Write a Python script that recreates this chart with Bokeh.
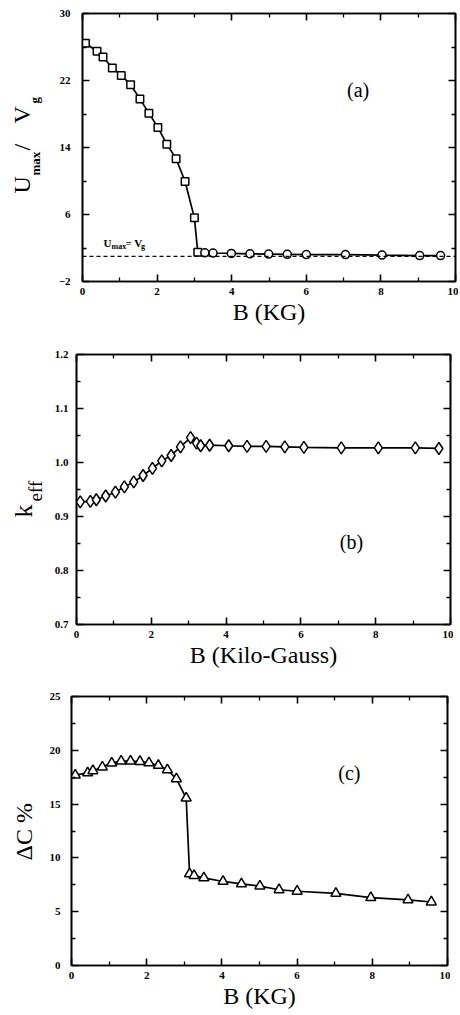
import math
from bokeh.plotting import figure
from bokeh.layouts import column, row
from bokeh.models import (Label, Span, FixedTicker, LinearAxis, CustomJSTickFormatter,
                          PrintfTickFormatter, Range1d)
from bokeh.core.properties import value
from bokeh.embed import file_html
from bokeh.resources import INLINE

# ---------------- data ----------------
# (a) Umax / Vg versus B (KG)
xa = [0.08, 0.39, 0.55, 0.8, 1.04, 1.29, 1.54, 1.78, 2.02, 2.26, 2.51, 2.75, 3.0,
      3.09, 3.28, 3.5, 3.99, 4.49, 4.99, 5.49, 6.0, 7.05, 8.03, 9.04, 9.6]
ya = [26.45, 25.5, 24.8, 23.5, 22.6, 21.5, 19.8, 18.1, 16.4, 14.4, 12.65, 9.94, 5.6,
      1.5, 1.43, 1.4, 1.35, 1.3, 1.28, 1.25, 1.22, 1.22, 1.15, 1.1, 1.1]
n_square_a = 14          # first points drawn as squares, rest as circles
vg_level = [1]           # Umax = Vg reference line

# (b) k_eff versus B (Kilo-Gauss)
xb = [0.1, 0.37, 0.53, 0.78, 1.04, 1.28, 1.53, 1.78, 2.03, 2.28, 2.53, 2.78, 3.05,
      3.21, 3.32, 3.56, 4.07, 4.56, 5.07, 5.57, 6.08, 7.08, 8.07, 9.06, 9.69]
yb = [0.927, 0.928, 0.931, 0.938, 0.945, 0.955, 0.964, 0.976, 0.989, 1.003, 1.013, 1.029, 1.046,
      1.036, 1.031, 1.032, 1.031, 1.030, 1.030, 1.029, 1.028, 1.027, 1.027, 1.027, 1.026]

# (c) Delta C % versus B (KG)
xc = [0.1, 0.43, 0.57, 0.82, 1.07, 1.32, 1.57, 1.82, 2.06, 2.31, 2.55, 2.79, 3.05,
      3.14, 3.26, 3.52, 4.03, 4.52, 5.01, 5.52, 6.0, 7.03, 7.96, 8.95, 9.57]
yc = [17.7, 17.9, 18.1, 18.44, 18.81, 19.0, 19.0, 18.96, 18.84, 18.59, 18.19, 17.35, 15.56,
      8.52, 8.36, 8.15, 7.81, 7.59, 7.38, 7.04, 6.9, 6.7, 6.3, 6.1, 5.9]

x_major = [0, 2, 4, 6, 8, 10]
x_minor = [1, 3, 5, 7, 9]
ya_major = [-2, 6, 14, 22, 30]
ya_minor = [2, 10, 18, 26]
yb_major = [0.7, 0.8, 0.9, 1.0, 1.1, 1.2]
yb_minor = [0.75, 0.85, 0.95, 1.05, 1.15]
yc_major = [0, 5, 10, 15, 20, 25]
yc_minor = [2.5, 7.5, 12.5, 17.5, 22.5]

SERIF = "Liberation Serif"


def style_axis(ax, labels=True):
    ax.axis_line_color = "black"
    ax.axis_line_width = 1.6
    ax.major_tick_line_color = "black"
    ax.major_tick_line_width = 1.6
    ax.minor_tick_line_color = "black"
    ax.minor_tick_line_width = 1.3
    ax.major_tick_in = 7
    ax.major_tick_out = 0
    ax.minor_tick_in = 4
    ax.minor_tick_out = 0
    ax.major_label_text_font = SERIF
    ax.major_label_text_font_style = "bold"
    ax.major_label_text_font_size = "11px"
    ax.major_label_text_color = "black"
    ax.axis_label_text_font = SERIF
    ax.axis_label_text_font_style = "normal"
    ax.axis_label_text_font_size = "24px"
    ax.axis_label_text_color = "black"
    if not labels:
        ax.formatter = CustomJSTickFormatter(code="return ''")
        ax.major_label_standoff = 0
        ax.major_label_text_font_size = "1px"


def make_panel(xr, yr, xmaj, xmin, ymaj, ymin, xlabel, fw, fh, bl, bt, ystand, yfmt=None):
    p = figure(frame_width=fw, frame_height=fh, x_range=Range1d(*xr), y_range=Range1d(*yr),
               output_backend="svg", toolbar_location=None,
               min_border_left=bl, min_border_top=bt, min_border_right=3, min_border_bottom=4)
    p.xgrid.visible = False
    p.ygrid.visible = False
    p.outline_line_color = "black"
    p.outline_line_width = 1.6
    p.background_fill_color = "white"
    p.border_fill_color = "white"
    p.xaxis.ticker = FixedTicker(ticks=xmaj, minor_ticks=xmin)
    p.yaxis.ticker = FixedTicker(ticks=ymaj, minor_ticks=ymin)
    style_axis(p.xaxis[0])
    style_axis(p.yaxis[0])
    if yfmt is not None:
        p.yaxis.formatter = PrintfTickFormatter(format=yfmt)
    p.xaxis.axis_label = xlabel
    p.xaxis.major_label_standoff = 6
    p.xaxis.axis_label_standoff = 1
    p.yaxis.major_label_standoff = ystand
    top = LinearAxis(ticker=FixedTicker(ticks=xmaj, minor_ticks=xmin))
    right = LinearAxis(ticker=FixedTicker(ticks=ymaj, minor_ticks=ymin))
    style_axis(top, labels=False)
    style_axis(right, labels=False)
    p.add_layout(top, "above")
    p.add_layout(right, "right")
    return p


def label_strip(width, fh, bt, pieces):
    """Narrow figure holding the rotated y-axis title; units are pixels,
    x from the strip's left edge, y from the main frame's bottom."""
    s = figure(frame_width=width, frame_height=fh, x_range=Range1d(0, width),
               y_range=Range1d(0, fh), output_backend="svg", toolbar_location=None,
               x_axis_location=None, y_axis_location=None,
               min_border_left=0, min_border_right=0, min_border_top=bt, min_border_bottom=0)
    s.xgrid.visible = False
    s.ygrid.visible = False
    s.outline_line_color = None
    s.background_fill_color = "white"
    s.border_fill_color = "white"
    for txt, x, y, size, style in pieces:
        s.text(x=[x], y=[y], text=[txt], angle=math.pi / 2, text_font=value(SERIF),
               text_font_size=value(size), text_font_style=style, text_align="left",
               text_baseline="middle", text_color="black")
    return s


# ---------------- panel (a) ----------------
XR = (0, 10)
FWA, FHA, BTA, LA = 373, 268, 13, 52
pa = make_panel(XR, (-2, 30), x_major, x_minor, ya_major, ya_minor, "B (KG)",
                FWA, FHA, 82 - LA, BTA, 12)
pa.add_layout(Span(location=vg_level[0], dimension="width", line_color="black",
                   line_dash="4 3", line_width=1.2))
pa.line(xa, ya, line_color="black", line_width=1.7)
pa.scatter(xa[:n_square_a], ya[:n_square_a], marker="square", size=7.5,
           fill_color="white", line_color="black", line_width=1.5)
pa.scatter(xa[n_square_a:], ya[n_square_a:], marker="circle", size=8,
           fill_color="white", line_color="black", line_width=1.5)
pa.add_layout(Label(x=7.39, y=20.87, text="(a)", text_font=SERIF, text_font_size="20px",
                    text_align="center", text_baseline="middle", text_color="black"))
for txt, xx, yy, fs in [("U", 0.56, 2.54, "11px"), ("max", 0.78, 2.2, "8px"),
                        ("= V", 1.15, 2.54, "11px"), ("g", 1.57, 2.2, "8px")]:
    pa.add_layout(Label(x=xx, y=yy, text=txt, text_font=SERIF, text_font_size=fs,
                        text_font_style="bold", text_align="left",
                        text_baseline="alphabetic", text_color="black"))
sa = label_strip(LA, FHA, BTA, [("U", 21, 88, "24px", "normal"),
                                ("max", 35, 106, "13px", "bold"),
                                ("/", 21, 131, "24px", "normal"),
                                ("V", 21, 158, "24px", "normal"),
                                ("g", 34, 178, "13px", "bold")])

# ---------------- panel (b) ----------------
FWB, FHB, BTB, LB = 374, 270, 27, 48
pb = make_panel(XR, (0.7, 1.2), x_major, x_minor, yb_major, yb_minor,
                "B (Kilo-Gauss)", FWB, FHB, 76 - LB, BTB, 8, yfmt="%.1f")
pb.line(xb, yb, line_color="black", line_width=1.7)
pb.scatter(xb, yb, marker="diamond", size=12, fill_color="white",
           line_color="black", line_width=1.5)
pb.add_layout(Label(x=7.35, y=0.853, text="(b)", text_font=SERIF, text_font_size="20px",
                    text_align="center", text_baseline="middle", text_color="black"))
sb = label_strip(LB, FHB, BTB, [("k", 23, 107, "26px", "normal"),
                                ("eff", 35, 123, "19px", "normal")])

# ---------------- panel (c) ----------------
FWC, FHC, BTC, LC = 376, 269, 26, 46
pc = make_panel(XR, (0, 25), x_major, x_minor, yc_major, yc_minor, "B (KG)",
                FWC, FHC, 71 - LC, BTC, 11)
pc.line(xc, yc, line_color="black", line_width=1.7)
pc.scatter(xc, yc, marker="triangle", size=10, fill_color="white",
           line_color="black", line_width=1.5)
pc.add_layout(Label(x=7.39, y=17.86, text="(c)", text_font=SERIF, text_font_size="20px",
                    text_align="center", text_baseline="middle", text_color="black"))
sc = label_strip(LC, FHC, BTC, [("ΔC %", 23, 105, "24px", "normal")])

layout = column(row(sa, pa, spacing=0), row(sb, pb, spacing=0), row(sc, pc, spacing=0),
                spacing=0)
open("out.html", "w").write(file_html(layout, INLINE))
